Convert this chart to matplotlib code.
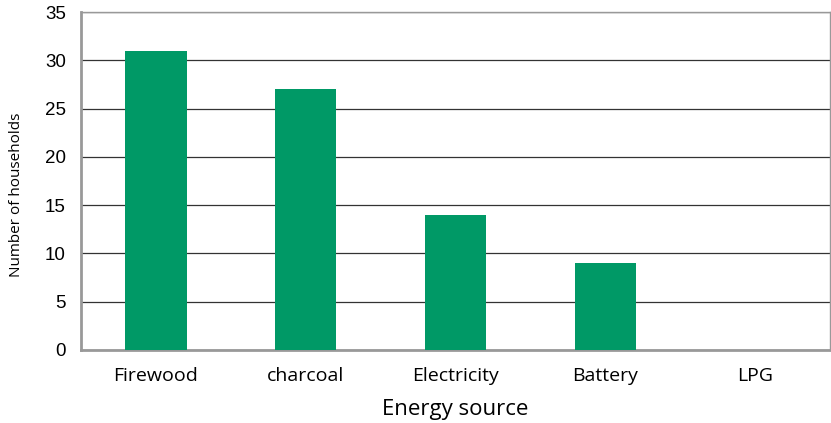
import matplotlib
matplotlib.use('Agg')
import matplotlib.pyplot as plt

# --- Household energy sources ---
sources = ["Firewood", "charcoal", "Electricity", "Battery", "LPG"]
households = [31, 27, 14, 9, 0]
y_ticks = [0, 5, 10, 15, 20, 25, 30, 35]

bar_color = "#009966"

fig = plt.figure(figsize=(8.31, 4.23), dpi=100)
ax = fig.add_axes([0.0975, 0.1726, 0.9013, 0.799])

x = range(len(sources))
ax.bar(x, households, width=0.41, color=bar_color, zorder=3)

ax.set_xlim(-0.5, len(sources) - 0.5)
ax.set_ylim(0, 35)
ax.set_yticks(y_ticks)
ax.set_yticklabels([str(t) for t in y_ticks], fontsize=13.5, family="Liberation Sans")
ax.set_xticks(list(x))
ax.set_xticklabels(sources, fontsize=14, family="Open Sans")

ax.grid(axis="y", color="#333333", linewidth=0.9, zorder=0)
ax.tick_params(axis="both", length=0)
ax.tick_params(axis="x", pad=12)
ax.tick_params(axis="y", pad=11)

for side in ["left", "bottom"]:
    ax.spines[side].set_color("#999999")
    ax.spines[side].set_linewidth(2)
for side in ["top", "right"]:
    ax.spines[side].set_color("#999999")
    ax.spines[side].set_linewidth(1)

ax.set_xlabel("Energy source", fontsize=16, family="Open Sans", labelpad=10)
ax.set_ylabel("Number of households", fontsize=11, family="Open Sans")
ax.yaxis.set_label_coords(-0.076, 0.46)

fig.savefig("out.png", dpi=100)
